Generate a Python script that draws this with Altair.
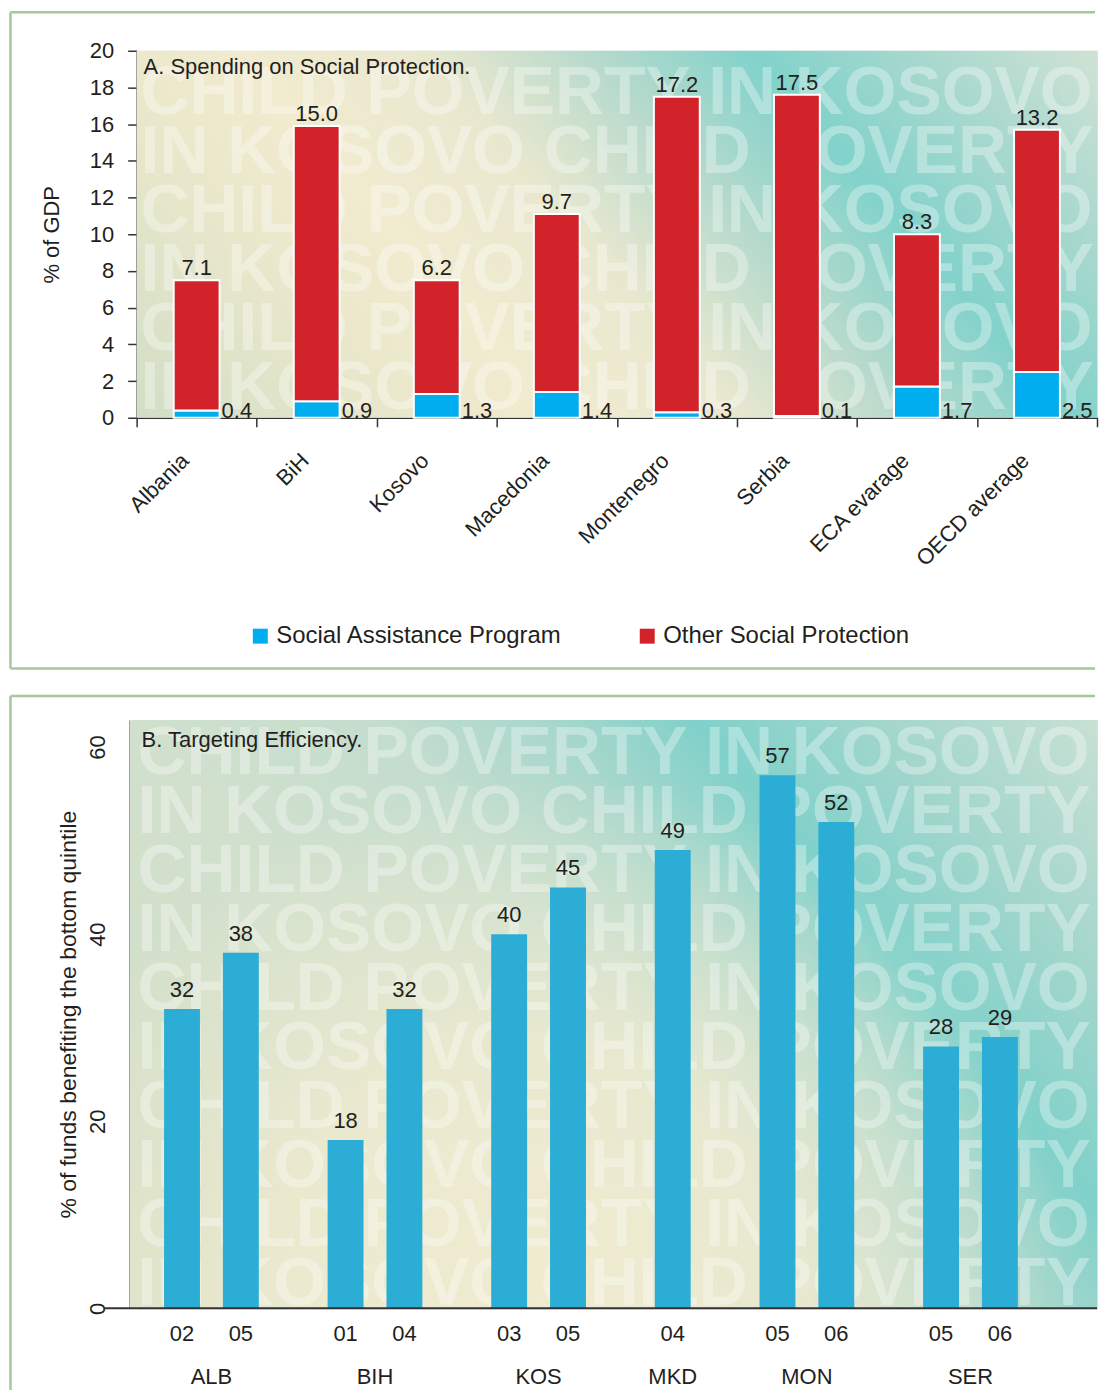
import altair as alt
import pandas as pd

# ---------------- data ----------------
countries = ["Albania", "BiH", "Kosovo", "Macedonia", "Montenegro", "Serbia",
             "ECA evarage", "OECD average"]
social_assistance = [0.4, 0.9, 1.3, 1.4, 0.3, 0.1, 1.7, 2.5]
other_protection = [7.1, 15.0, 6.2, 9.7, 17.2, 17.5, 8.3, 13.2]
series_names = ["Social Assistance Program", "Other Social Protection"]

eff_country = ["ALB", "ALB", "BIH", "BIH", "KOS", "KOS", "MKD", "MON", "MON", "SER", "SER"]
eff_year = ["02", "05", "01", "04", "03", "05", "04", "05", "06", "05", "06"]
eff_value = [32, 38, 18, 32, 40, 45, 49, 57, 52, 28, 29]

watermark = ["CHILD POVERTY IN KOSOVO", "IN KOSOVO CHILD POVERTY"]
title_a = "A. Spending on Social Protection."
title_b = "B. Targeting Efficiency."

# ---------------- styles ----------------
FONT = "Liberation Sans"
TXT = "#231f20"
AX = "#333333"
BORDER = "#a6c89d"
BLUE_A, RED_A, BLUE_B = "#00aeef", "#d2232a", "#2badd5"
W, H1, H2 = 963, 368, 590
SHIFT_B = 7          # panel B plot starts 7px left of panel A plot
SLOT_B = 59.0        # px per bar slot in panel B
FS = 22

one = pd.DataFrame({"k": [0]})


def stops(pairs):
    return [alt.GradientStop(offset=o, color=c) for o, c in pairs]


grad_a = alt.LinearGradient(gradient="linear", x1=0, y1=1, x2=1.2, y2=0.6, stops=stops([
    (0, "#d1dec6"), (0.2, "#e9e7cb"), (0.33, "#f1ebcf"), (0.47, "#e9e8cf"),
    (0.6, "#b8dacc"), (0.73, "#82d2cb"), (0.86, "#a8d8ce"), (1.0, "#d0e2d4")]))
grad_b = alt.LinearGradient(gradient="linear", x1=0, y1=1, x2=1.2, y2=0.4, stops=stops([
    (0, "#d5dfc6"), (0.35, "#d0e0cd"), (0.5, "#c4ddce"), (0.62, "#a9d7cc"),
    (0.725, "#80d1ca"), (0.85, "#a3d6cc"), (1.0, "#c8e0d3")]))
glow_b = alt.RadialGradient(gradient="radial", x1=0.42, y1=0.8, x2=0.42, y2=0.8, r1=0, r2=0.55,
                            stops=stops([(0, "rgba(242,236,208,0.95)"),
                                         (0.5, "rgba(242,236,208,0.75)"),
                                         (1, "rgba(242,236,208,0)")]))


def rect(fill, x0, w, h):
    return alt.Chart(one).mark_rect(fill=fill, strokeWidth=0).encode(
        x=alt.value(x0), x2=alt.value(w), y=alt.value(0), y2=alt.value(h))


def hrule(x1, x2, y):
    return alt.Chart(one).mark_rule(color=BORDER, strokeWidth=2.5).encode(
        x=alt.value(x1), x2=alt.value(x2), y=alt.value(y))


def vrule(x, y1, y2):
    return alt.Chart(one).mark_rule(color=BORDER, strokeWidth=2.5).encode(
        x=alt.value(x), y=alt.value(y1), y2=alt.value(y2))


def wm(n, y0, lh, x0):
    return alt.Chart(one).mark_text(
        text=[watermark[i % 2] for i in range(n)], lineHeight=lh, align="left",
        baseline="alphabetic", font="Liberation Sans", fontSize=68, fontWeight="bold",
        color="white", opacity=0.33, clip=True).encode(x=alt.value(x0), y=alt.value(y0))


def title_text(t, x, y):
    return alt.Chart(one).mark_text(text=t, align="left", baseline="middle", font=FONT,
                                    fontSize=FS, color=TXT).encode(x=alt.value(x), y=alt.value(y))


# ---------------- panel A ----------------
rows = []
for c, sa, op in zip(countries, social_assistance, other_protection):
    rows.append({"country": c, "series": series_names[0], "value": sa, "order": 0})
    rows.append({"country": c, "series": series_names[1], "value": op, "order": 1})
df_a = pd.DataFrame(rows)
df_al = pd.DataFrame({"country": countries, "sa": social_assistance, "op": other_protection})
df_al["total"] = df_al["sa"] + df_al["op"]

x_axis_a = alt.Axis(labelAngle=315, labelAlign="right", labelBaseline="middle",
                    tickBand="extent", tickSize=9, labelPadding=30, labelOffset=-12,
                    labelFontSize=FS, labelFont=FONT, labelColor=TXT, domainColor=AX,
                    tickColor=AX, domainWidth=1.5, tickWidth=1.5, labelOverlap=False)
x_a = alt.X("country:N", sort=countries, title=None,
            scale=alt.Scale(paddingInner=0, paddingOuter=0), axis=x_axis_a)
y_axis_a = alt.Axis(values=list(range(0, 21, 2)), title="% of GDP", tickSize=9, labelPadding=14,
                    labelFontSize=FS, labelFont=FONT, labelColor=TXT, titleFont=FONT,
                    titleFontSize=FS, titleFontWeight="normal", titleColor=TXT, titlePadding=26,
                    domainColor=AX, tickColor=AX, domainWidth=1.5, tickWidth=1.5,
                    labelOverlap=False, labelFlush=False, grid=False)
y_scale_a = alt.Scale(domain=[0, 20], nice=False)

bars_a = alt.Chart(df_a).mark_bar(width=46, stroke="white", strokeWidth=2).encode(
    x=x_a,
    y=alt.Y("value:Q", stack="zero", scale=y_scale_a, axis=y_axis_a, title="% of GDP"),
    color=alt.Color("series:N", scale=alt.Scale(domain=series_names, range=[BLUE_A, RED_A]),
                    legend=alt.Legend(title=None, orient="none", legendX=112, legendY=575,
                                      direction="horizontal", symbolType="square",
                                      symbolSize=225, symbolStrokeWidth=0, labelFontSize=24,
                                      labelFont=FONT, labelColor=TXT, columnPadding=73,
                                      labelOffset=4, labelLimit=400)),
    order=alt.Order("order:Q"))

top_lab = alt.Chart(df_al).mark_text(baseline="alphabetic", dy=-5, font=FONT, fontSize=FS,
                                     color=TXT).encode(
    x=x_a, y=alt.Y("total:Q", scale=y_scale_a, axis=y_axis_a, title="% of GDP"),
    text=alt.Text("op:Q", format=".1f"))
sa_lab = alt.Chart(df_al).mark_text(baseline="alphabetic", align="left", dx=25, font=FONT,
                                    fontSize=FS, color=TXT).encode(
    x=x_a, y=alt.value(H1), text=alt.Text("sa:Q", format=".1f"))

panel_a = alt.layer(
    rect(grad_a, 0, W, H1),
    wm(6, 63, 59.3, 4),
    bars_a, top_lab, sa_lab,
    title_text(title_a, 7, 16),
    hrule(-126.5, W - 2, -38.5),
    vrule(-126.5, -38.5, 619.5),
    hrule(-126.5, W - 2, 619.5),
).properties(width=W, height=H1)

# ---------------- panel B ----------------
slot_pad = 0.39
pos, grp_names, grp_centers = [], [], []
start = 0.0
for g in dict.fromkeys(eff_country):
    n = eff_country.count(g)
    for j in range(n):
        pos.append(start + slot_pad + 0.5 + j)
    grp_names.append(g)
    grp_centers.append(start + slot_pad + n / 2)
    start += n + 2 * slot_pad

df_b = pd.DataFrame({"country": eff_country, "year": eff_year, "value": eff_value, "pos": pos})
df_g = pd.DataFrame({"country": grp_names, "center": grp_centers})

x_scale_b = alt.Scale(domain=[SHIFT_B / SLOT_B, (SHIFT_B + W) / SLOT_B], nice=False,
                      zero=False, padding=0)
x_b = alt.X("pos:Q", scale=x_scale_b, axis=None)
y_scale_b = alt.Scale(domain=[0, 62.9], nice=False)
ytitle_b = "% of funds benefiting the bottom quintile"
y_axis_b = alt.Axis(values=[0, 20, 40, 60], title=ytitle_b,
                    labelAngle=270, labelAlign="center", labelBaseline="bottom", ticks=False,
                    labelPadding=20, labelFontSize=FS, labelFont=FONT, labelColor=TXT,
                    labelFlush=False, labelOverlap=False, titleFont=FONT, titleFontSize=23,
                    titleFontWeight="normal", titleColor=TXT, titlePadding=6, offset=SHIFT_B,
                    domainColor=AX, domainWidth=1.5, grid=False)

bars_b = alt.Chart(df_b).mark_bar(width=36, color=BLUE_B).encode(
    x=x_b, y=alt.Y("value:Q", scale=y_scale_b, axis=y_axis_b, title=ytitle_b))
val_b = alt.Chart(df_b).mark_text(baseline="alphabetic", dy=-12, font=FONT, fontSize=FS,
                                  color=TXT).encode(
    x=x_b, y=alt.Y("value:Q", scale=y_scale_b, axis=y_axis_b, title=ytitle_b), text="value:Q")
year_b = alt.Chart(df_b).mark_text(baseline="middle", font=FONT, fontSize=FS, color=TXT).encode(
    x=x_b, y=alt.value(H2 + 26), text="year:N")
grp_b = alt.Chart(df_g).mark_text(baseline="middle", font=FONT, fontSize=FS, color=TXT).encode(
    x=alt.X("center:Q", scale=x_scale_b, axis=None), y=alt.value(H2 + 69), text="country:N")
base_b = alt.Chart(one).mark_rule(color=AX, strokeWidth=2).encode(
    x=alt.value(-26 - SHIFT_B), x2=alt.value(W), y=alt.value(H2))

panel_b = alt.layer(
    rect(grad_b, -SHIFT_B, W, H2),
    rect(glow_b, -SHIFT_B, W, H2),
    wm(10, 54, 59.2, 8 - SHIFT_B),
    bars_b, val_b, year_b, grp_b, base_b,
    title_text(title_b, 12 - SHIFT_B, 20),
    hrule(-126.5, W - 2, -24),
    vrule(-126.5, -24, 672),
).properties(width=W, height=H2)

chart = alt.vconcat(panel_a, panel_b, spacing=23).properties(
    padding={"left": 8, "top": 8, "right": 0, "bottom": 0}
).configure_view(stroke=None).configure_axis(labelOverlap=False).configure(background="white")

chart.save("out.html", embed_options={"renderer": "svg", "actions": False})
